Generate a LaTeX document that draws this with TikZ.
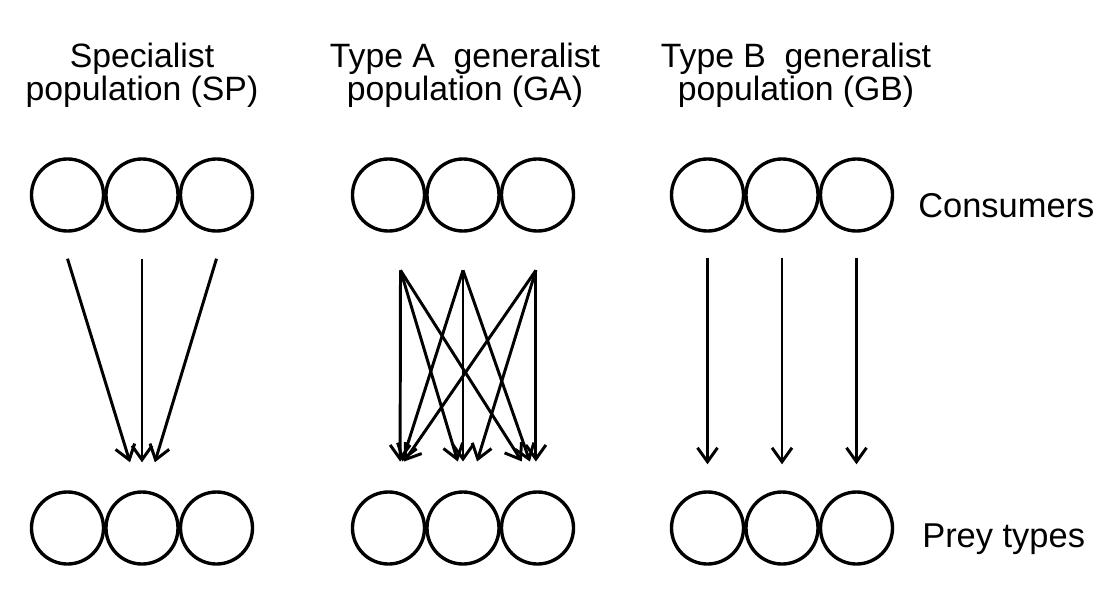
\documentclass[tikz,border=0pt]{standalone}
\usepackage{fontspec}
\setmainfont{Liberation Sans}
\usetikzlibrary{positioning, arrows.meta}

\begin{document}
\begin{tikzpicture}[x=0.025cm, y=-0.025cm, >={Straight Barb[length=3.5mm, width=5mm]},
    unit/.style={circle, draw, line width=2.4pt, minimum size=1.8cm, inner sep=0pt},
    link/.style={->, line width=2.1pt},
    title/.style={align=center, inner sep=0pt, font=\fontsize{24}{23.5}\selectfont},
    side/.style={anchor=base west, inner sep=0pt, font=\fontsize{24.5}{26}\selectfont}]
      \useasboundingbox (0,0) rectangle (1112,606);
      % consumers on top, prey types below
      \foreach \g/\cx in {sp/142, ga/463, gb/782} {
        \foreach \i in {1,2,3} {
          \node[unit] (\g-c\i) at ({\cx+(\i-2)*74.5},195) {};
          \node[unit] (\g-p\i) at ({\cx+(\i-2)*74.5},528) {};
        }
      }
      \node[title] (sp-title) at (142,75) {Specialist\\population (SP)};
      \node[title] (ga-title) at (465,75) {Type A\ \ generalist\\population (GA)};
      \node[title] (gb-title) at (796,75) {Type B\ \ generalist\\population (GB)};
      \node[side] (cons) at (918,217) {Consumers};
      \node[side] (prey) at (922,547) {Prey types};
      % specialists all feed on one prey type
      \foreach \i/\dx in {1/-0.3, 2/0, 3/0.32}
        \draw[link] ([yshift=-0.65cm]sp-c\i.south) -- ([xshift=\dx cm, yshift=0.7cm]sp-p2.north);
      % type A: every consumer on every prey type
      \foreach \i/\sx/\j/\dx in {1/0.3/1/0.29, 2/0/1/0.34, 3/-0.04/1/0.39,
                                 1/0.3/2/-0.13, 2/0/2/0, 3/-0.04/2/0.35,
                                 1/0.3/3/-0.39, 2/0/3/-0.19, 3/-0.04/3/-0.04}
        \draw[link] ([xshift=\sx cm, yshift=-0.94cm]ga-c\i.south) -- ([xshift=\dx cm, yshift=0.72cm]ga-p\j.north);
      % type B: one consumer per prey type
      \foreach \i in {1,2,3}
        \draw[link] ([yshift=-0.62cm]gb-c\i.south) -- ([yshift=0.65cm]gb-p\i.north);
    \end{tikzpicture}
\end{document}
